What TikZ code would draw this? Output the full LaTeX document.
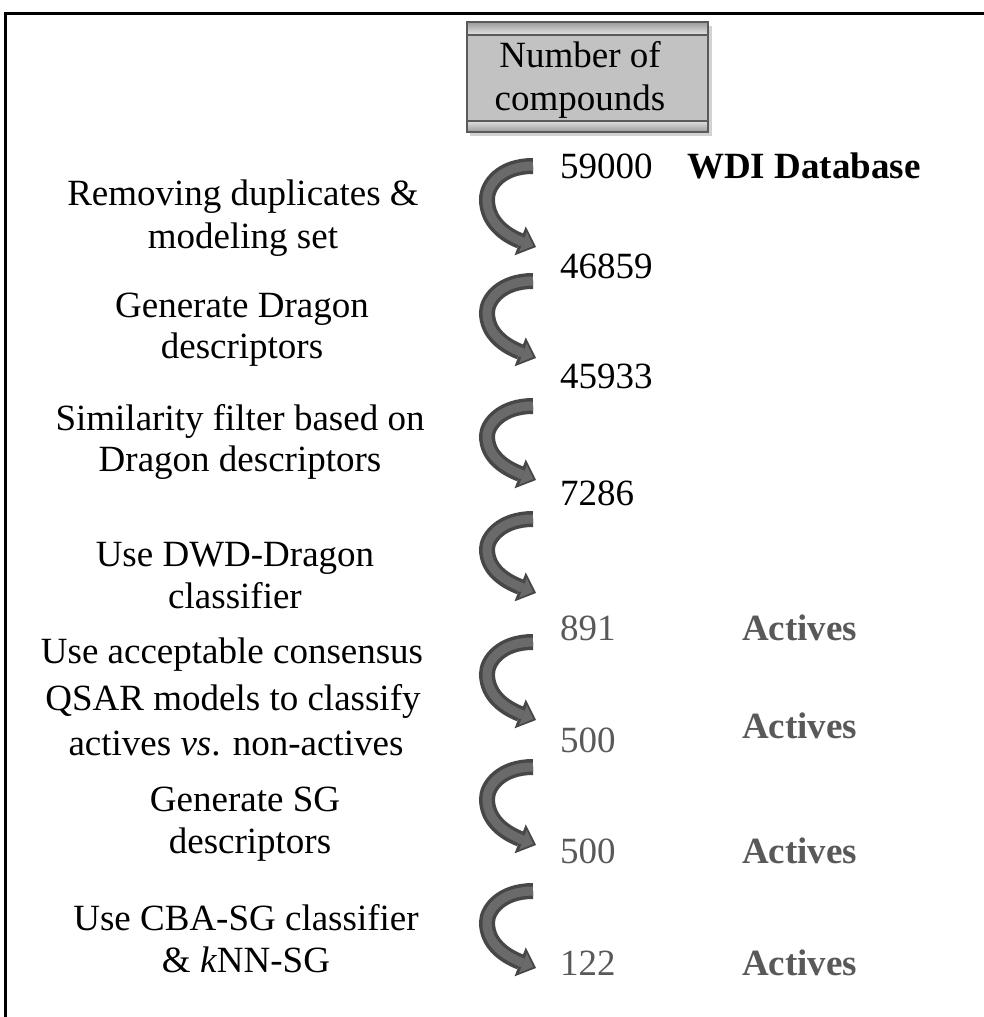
\documentclass[tikz,border=0pt]{standalone}
\usepackage{fontspec}
\setmainfont{Liberation Serif}
\usetikzlibrary{arrows.meta,shadows}
\definecolor{bandout}{HTML}{474747}
\definecolor{bandin}{HTML}{6A6A6A}
\definecolor{numgray}{HTML}{595959}
\definecolor{hdrbody}{HTML}{C2C2C2}
\definecolor{hdredge}{HTML}{5A5A5A}
\definecolor{hdrstrip}{HTML}{9A9A9A}
\tikzset{
  txt/.style={inner sep=0pt, anchor=base, font=\fontsize{37}{42}\selectfont},
  lbl/.style={txt},
  num/.style={txt, anchor=base west},
  numg/.style={num, text=numgray},
  tag/.style={txt, anchor=base west, font=\fontsize{37}{42}\selectfont\bfseries},
  tagg/.style={tag, text=numgray},
  bandouter/.style={line width=16pt, color=bandout, line cap=butt,
    -{Triangle[width=31pt,length=17pt,line width=0pt]}},
  bandinner/.style={line width=9pt, color=bandin, line cap=butt, shorten >=3pt,
    -{Triangle[width=21pt,length=11pt,line width=0pt]}},
  frame/.style={line width=3pt, black}
}
% #1 name, #2 top y, #3 tip y
\newcommand\curvarrow[3]{%
  \coordinate (#1s) at (533,{#2+9});
  \coordinate (#1e) at (536,#3);
  \foreach \sty in {bandouter,bandinner}{
    \draw[\sty] (#1s) .. controls (501,{#2+9}) and (487,{#2+28}) ..
      (487,{#2+0.47*(#3-#2)}) .. controls (487,{#2+0.72*(#3-#2)}) and (505,{#3-12}) .. (#1e);
  }
}
\begin{document}
\begin{tikzpicture}[x=1pt,y=-1pt]
\useasboundingbox (0,0) rectangle (983,1017);
% frame
\coordinate (fl) at (5,1020);
\coordinate (ftl) at (5,13);
\coordinate (ftr) at (990,13);
\draw[frame] (fl) -- (ftl) -- (ftr);

% header box
\fill[gray!35] (470,26) rectangle (712,136);
\fill[hdrbody] (467,22) rectangle (708,132);
\shade[top color=hdrstrip, bottom color=gray!20] (467,22) rectangle (708,35);
\shade[top color=gray!25, bottom color=hdrstrip] (467,121) rectangle (708,132);
\draw[hdredge, line width=1.2pt] (467,35) -- (708,35);
\draw[hdredge, line width=1.2pt] (467,121) -- (708,121);
\draw[hdredge, line width=2.5pt] (467,22) rectangle (708,132);
\node[txt] (h1) at (580,67) {Number of};
\node[txt] (h2) at (580,110) {compounds};

% numbers
\node[num]  (n1) at (560,178) {59000};
\node[tag]  (db) at (687,178) {WDI Database};
\node[num]  (n2) at (560,278) {46859};
\node[num]  (n3) at (560,388) {45933};
\node[num]  (n4) at (560,505) {7286};
\node[numg] (n5) at (560,640) {891};
\node[tagg] (a5) at (742,640) {Actives};
\node[numg] (n6) at (560,752) {500};
\node[tagg] (a6) at (742,738) {Actives};
\node[numg] (n7) at (560,863) {500};
\node[tagg] (a7) at (742,863) {Actives};
\node[numg] (n8) at (560,975) {122};
\node[tagg] (a8) at (742,975) {Actives};

% arrows
\curvarrow{c1}{157}{247}
\curvarrow{c2}{272}{358}
\curvarrow{c3}{397}{480}
\curvarrow{c4}{510}{593}
\curvarrow{c5}{633}{720}
\curvarrow{c6}{758}{845}
\curvarrow{c7}{882}{968}

% step labels
\node[lbl] (s1a) at (243,205) {Removing duplicates \&};
\node[lbl] (s1b) at (243,248) {modeling set};
\node[lbl] (s2a) at (242,317) {Generate Dragon};
\node[lbl] (s2b) at (242,358) {descriptors};
\node[lbl] (s3a) at (240,430) {Similarity filter based on};
\node[lbl] (s3b) at (240,471) {Dragon descriptors};
\node[lbl] (s4a) at (235,566) {Use DWD-Dragon};
\node[lbl] (s4b) at (235,608) {classifier};
\node[lbl] (s5a) at (232,663) {Use acceptable consensus};
\node[lbl] (s5b) at (233,710) {QSAR models to classify};
\node[lbl] (s5c) at (236,755) {actives \textit{vs}. non-actives};
\node[lbl] (s6a) at (245,811) {Generate SG};
\node[lbl] (s6b) at (250,853) {descriptors};
\node[lbl] (s7a) at (246,930) {Use CBA-SG classifier};
\node[lbl] (s7b) at (246,972) {\& \textit{k}NN-SG};
\end{tikzpicture}
\end{document}
